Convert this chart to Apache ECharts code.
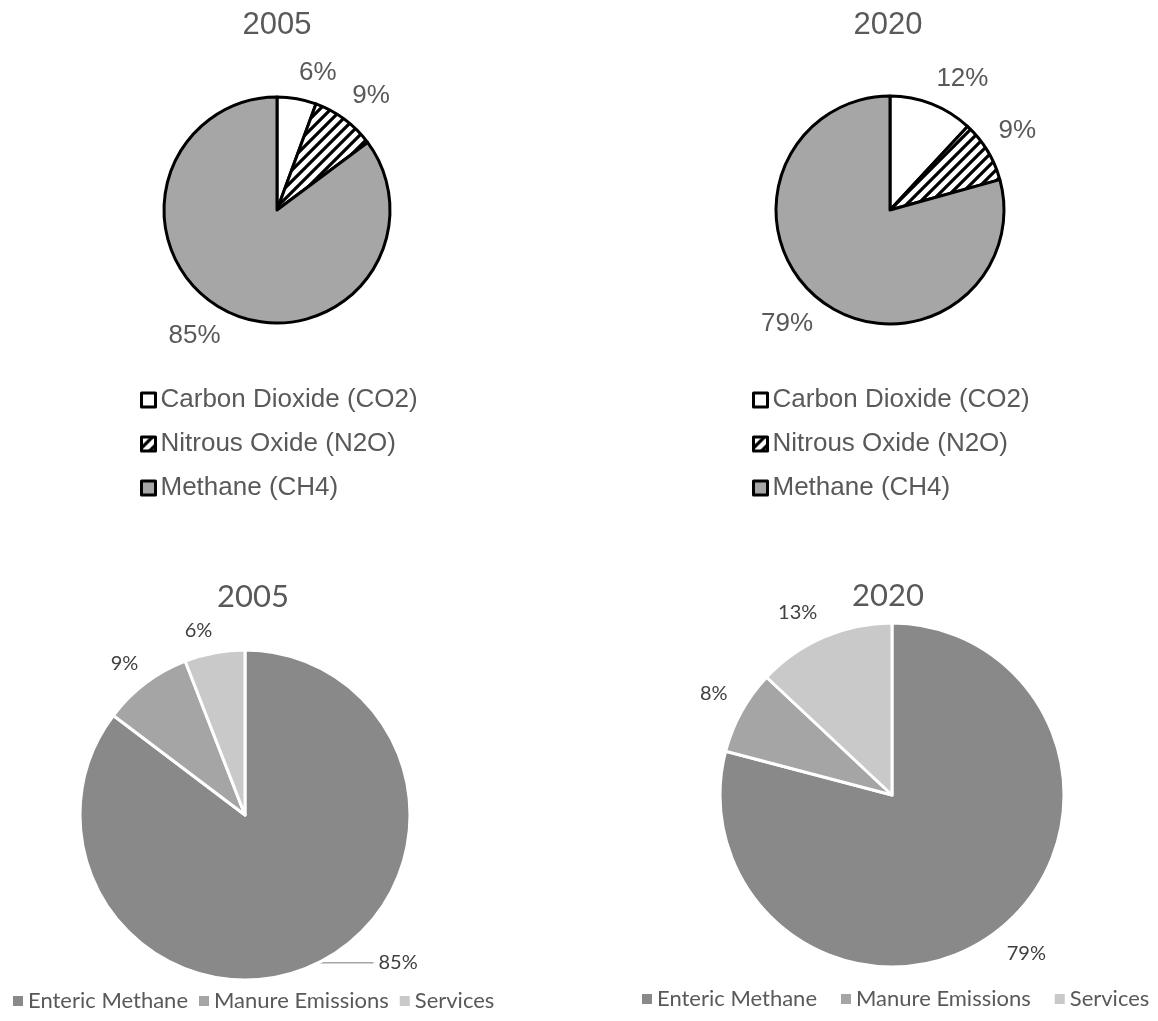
<!DOCTYPE html>
<html>
<head>
<meta charset="utf-8">
<script src="https://cdn.jsdelivr.net/npm/echarts@6/dist/echarts.min.js"></script>
<style>
html,body{margin:0;padding:0;background:#fff;}
#chart{width:1158px;height:1021px;}
</style>
</head>
<body>
<div id="chart"></div>
<script>
// ---------- data ----------
const years = ['2005', '2020'];
const gasNames = ['Carbon Dioxide (CO2)', 'Nitrous Oxide (N2O)', 'Methane (CH4)'];
const gas2005 = [5.6, 9.2, 85.2];
const gas2020 = [11.9, 8.8, 79.3];
const sourceNames = ['Enteric Methane', 'Manure Emissions', 'Services'];
const source2005 = [85.3, 8.8, 5.9];
const source2020 = [79.1, 7.9, 13.0];

// ---------- styles ----------
const TOP_FONT = '"Liberation Sans", Arial, sans-serif';
const BOT_FONT = 'Lato, "Open Sans", sans-serif';

function hatchPattern() {
  const s = 11;
  const c = document.createElement('canvas');
  c.width = s; c.height = s;
  const g = c.getContext('2d');
  g.fillStyle = '#ffffff';
  g.fillRect(0, 0, s, s);
  g.strokeStyle = '#000000';
  g.lineWidth = 3.2;
  g.beginPath();
  g.moveTo(-3, s + 3); g.lineTo(s + 3, -3);
  g.moveTo(-3, 3); g.lineTo(3, -3);
  g.moveTo(s - 3, s + 3); g.lineTo(s + 3, s - 3);
  g.stroke();
  return c;
}
const hatch = { image: hatchPattern(), repeat: 'repeat' };

const gasColors = ['#ffffff', hatch, '#a6a6a6'];
const sourceColors = ['#898989', '#a5a5a5', '#c9c9c9'];

// label placement outside the pie, derived from the slice mid-angle
function cornerLayout(values, cx, cy, R, off, skip) {
  const total = values.reduce((a, b) => a + b, 0);
  return function (p) {
    if (skip && skip.indexOf(p.dataIndex) >= 0) return {};
    let before = 0;
    for (let i = 0; i < p.dataIndex; i++) before += values[i];
    const mid = (before + values[p.dataIndex] / 2) / total * 2 * Math.PI;
    const s = Math.sin(mid), c = Math.cos(mid);
    const ax = cx + (R + off) * s, ay = cy - (R + off) * c;
    const w = p.labelRect.width, h = p.labelRect.height;
    return {
      x: ax + Math.sign(s) * w / 2,
      y: ay - Math.sign(c) * h / 2,
      align: 'center',
      verticalAlign: 'middle'
    };
  };
}

function pct(p) { return Math.round(p.percent) + '%'; }

function makeData(names, values, colors) {
  return names.map((n, i) => ({ name: n, value: values[i], itemStyle: { color: colors[i] } }));
}

const TL = { c: [277, 210], r: 113 };
const TR = { c: [890, 210], r: 114 };
const BL = { c: [245, 815], r: 165 };
const BR = { c: [892, 795], r: 172 };

const topLabel = { show: true, position: 'outside', formatter: pct, color: '#595959', fontFamily: TOP_FONT, fontSize: 26 };
const botLabel = { show: true, position: 'outside', formatter: pct, color: '#404040', fontFamily: BOT_FONT, fontSize: 20 };

const blData = makeData(sourceNames, source2005, sourceColors);
blData[0].labelLine = { show: true, length: 0, length2: 55, lineStyle: { color: '#a6a6a6', width: 1.5 } };

const option = {
  animation: false,
  backgroundColor: '#ffffff',
  title: [
    { text: years[0], left: 277, top: 10, textAlign: 'center', padding: 0, textStyle: { fontFamily: TOP_FONT, fontSize: 31, fontWeight: 'normal', color: '#595959' } },
    { text: years[1], left: 888, top: 10, textAlign: 'center', padding: 0, textStyle: { fontFamily: TOP_FONT, fontSize: 31, fontWeight: 'normal', color: '#595959' } },
    { text: years[0], left: 253, top: 581, textAlign: 'center', padding: 0, textStyle: { fontFamily: BOT_FONT, fontSize: 31, fontWeight: 'normal', color: '#595959' } },
    { text: years[1], left: 888, top: 580, textAlign: 'center', padding: 0, textStyle: { fontFamily: BOT_FONT, fontSize: 31, fontWeight: 'normal', color: '#595959' } }
  ],
  legend: [
    { data: gasNames, orient: 'vertical', left: 140, top: 385, padding: 0, itemGap: 14, itemWidth: 14, itemHeight: 14, icon: 'rect', selectedMode: false,
      itemStyle: { borderColor: '#000', borderWidth: 3 },
      textStyle: { fontFamily: TOP_FONT, fontSize: 26, lineHeight: 30, color: '#595959' } },
    { data: gasNames, orient: 'vertical', left: 752, top: 385, padding: 0, itemGap: 14, itemWidth: 14, itemHeight: 14, icon: 'rect', selectedMode: false,
      itemStyle: { borderColor: '#000', borderWidth: 3 },
      textStyle: { fontFamily: TOP_FONT, fontSize: 26, lineHeight: 30, color: '#595959' } },
    { data: sourceNames, orient: 'horizontal', left: 13, top: 989, padding: 0, itemGap: 11, itemWidth: 10, itemHeight: 10, icon: 'rect', selectedMode: false,
      itemStyle: { borderWidth: 0 },
      textStyle: { fontFamily: BOT_FONT, fontSize: 22, lineHeight: 24, color: '#595959' } },
    { data: sourceNames, orient: 'horizontal', left: 642, top: 987, padding: 0, itemGap: 24, itemWidth: 10, itemHeight: 10, icon: 'rect', selectedMode: false,
      itemStyle: { borderWidth: 0 },
      textStyle: { fontFamily: BOT_FONT, fontSize: 22, lineHeight: 24, color: '#595959' } }
  ],
  series: [
    { type: 'pie', center: TL.c, radius: TL.r, startAngle: 90, clockwise: true, avoidLabelOverlap: false,
      itemStyle: { borderColor: '#000', borderWidth: 3 },
      label: topLabel, labelLine: { show: false },
      labelLayout: cornerLayout(gas2005, TL.c[0], TL.c[1], TL.r, 13),
      emphasis: { disabled: true },
      data: makeData(gasNames, gas2005, gasColors) },
    { type: 'pie', center: TR.c, radius: TR.r, startAngle: 90, clockwise: true, avoidLabelOverlap: false,
      itemStyle: { borderColor: '#000', borderWidth: 3 },
      label: topLabel, labelLine: { show: false },
      labelLayout: cornerLayout(gas2020, TR.c[0], TR.c[1], TR.r, 13),
      emphasis: { disabled: true },
      data: makeData(gasNames, gas2020, gasColors) },
    { type: 'pie', center: BL.c, radius: BL.r, startAngle: 90, clockwise: true, avoidLabelOverlap: false,
      itemStyle: { borderColor: '#fff', borderWidth: 3 },
      label: botLabel, labelLine: { show: false },
      labelLayout: cornerLayout(source2005, BL.c[0], BL.c[1], BL.r, 12, [0]),
      emphasis: { disabled: true },
      data: blData },
    { type: 'pie', center: BR.c, radius: BR.r, startAngle: 90, clockwise: true, avoidLabelOverlap: false,
      itemStyle: { borderColor: '#fff', borderWidth: 3 },
      label: botLabel, labelLine: { show: false },
      labelLayout: cornerLayout(source2020, BR.c[0], BR.c[1], BR.r, 16),
      emphasis: { disabled: true },
      data: makeData(sourceNames, source2020, sourceColors) }
  ]
};

const chart = echarts.init(document.getElementById('chart'), null, { renderer: 'canvas', width: 1158, height: 1021 });
chart.setOption(option);
</script>
</body>
</html>
